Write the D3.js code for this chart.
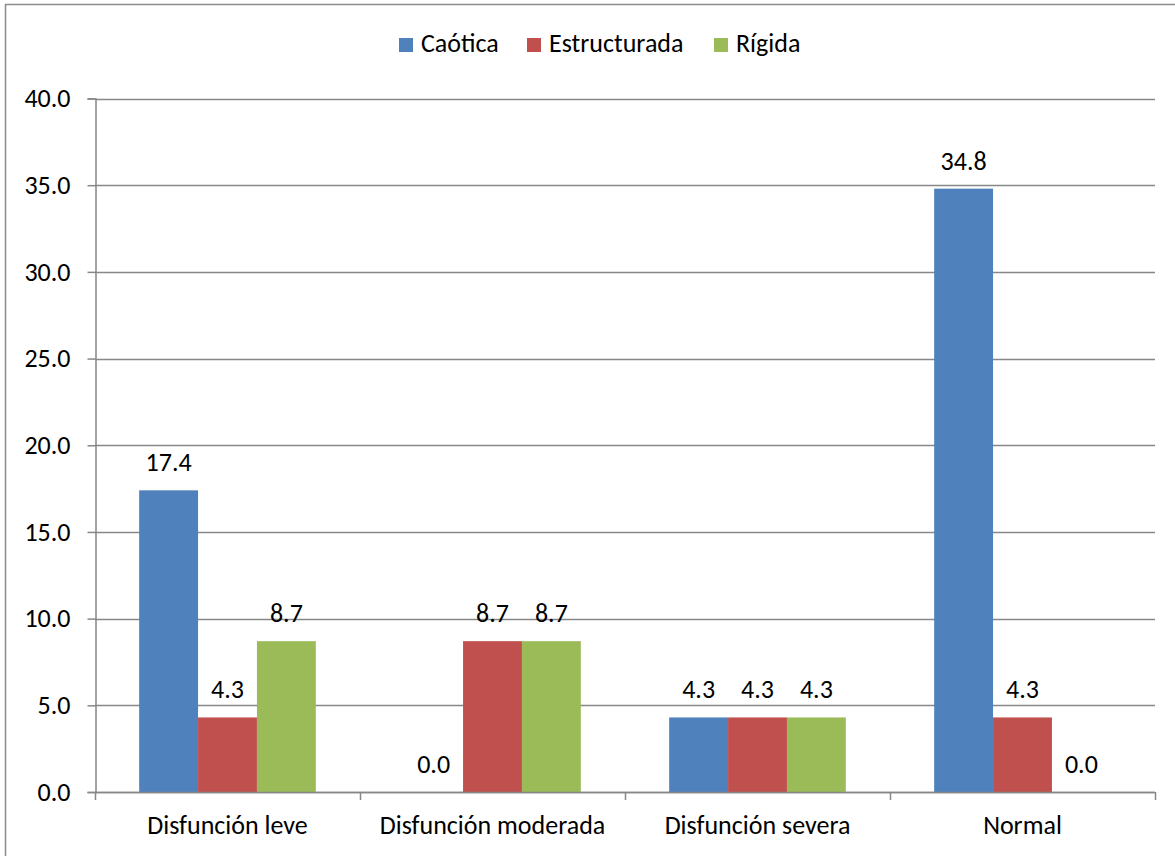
<!DOCTYPE html>
<html>
<head>
<meta charset="utf-8">
<script src="https://cdn.jsdelivr.net/npm/d3@7"></script>
<style>
  html, body { margin: 0; padding: 0; background: #fff; }
  svg text { font-family: Carlito, "Open Sans", sans-serif; fill: #000; }
</style>
</head>
<body>
<svg id="chart" width="1175" height="856"></svg>
<script>
// Chart data
const categories = ["Disfunción leve", "Disfunción moderada", "Disfunción severa", "Normal"];
const seriesNames = ["Caótica", "Estructurada", "Rígida"];
const caotica = [17.4, 0.0, 4.3, 34.8];
const estructurada = [4.3, 8.7, 4.3, 4.3];
const rigida = [8.7, 8.7, 4.3, 0.0];
const seriesColors = ["#4F81BD", "#C0504D", "#9BBB59"];
const yTicks = [0, 5, 10, 15, 20, 25, 30, 35, 40];

const seriesValues = [caotica, estructurada, rigida];

const svg = d3.select("#chart");
const W = 1175, H = 856;
const plot = { left: 95, right: 1155, top: 98.5, bottom: 792 };
const fontSize = 26;
const fontFamily = "Carlito, 'Open Sans', sans-serif";

// Outer chart frame (right and bottom edges sit past the canvas)
svg.append("rect")
  .attr("x", 5.5).attr("y", 4.5)
  .attr("width", W + 10).attr("height", H + 10)
  .attr("fill", "#fff")
  .attr("stroke", "#8c8c8c").attr("stroke-width", 1.5);

const x = d3.scaleBand().domain(categories).range([plot.left, plot.right]).paddingInner(0).paddingOuter(0);
const xs = d3.scaleBand().domain(seriesNames).range([0, x.bandwidth()]).paddingInner(0).paddingOuter(0.75);
const y = d3.scaleLinear().domain([0, 40]).range([plot.bottom, plot.top]);

// Horizontal gridlines
svg.append("g").selectAll("line").data(yTicks).join("line")
  .attr("x1", plot.left).attr("x2", plot.right)
  .attr("y1", d => Math.round(y(d)) + 0.5).attr("y2", d => Math.round(y(d)) + 0.5)
  .attr("stroke", "#878787").attr("stroke-width", 1.5);

// Y axis
const yAxis = d3.axisLeft(y).tickValues(yTicks).tickFormat(d3.format(".1f")).tickSize(8).tickPadding(17);
const gy = svg.append("g").attr("transform", `translate(${plot.left + 0.5},0)`).call(yAxis);
gy.select(".domain").attr("stroke", "#878787").attr("stroke-width", 1.5);
gy.selectAll(".tick line").attr("stroke", "#878787").attr("stroke-width", 1.5);
gy.selectAll(".tick text").attr("font-size", fontSize).attr("font-family", fontFamily).attr("fill", "#000");

// Bars
const groups = svg.append("g").selectAll("g").data(seriesNames).join("g")
  .attr("fill", (d, i) => seriesColors[i]);

groups.each(function(name, si) {
  d3.select(this).selectAll("rect").data(categories).join("rect")
    .attr("x", (c) => x(c) + xs(name))
    .attr("width", xs.bandwidth())
    .attr("y", (c, ci) => y(seriesValues[si][ci]))
    .attr("height", (c, ci) => y(0) - y(seriesValues[si][ci]));
});

// X axis with boundary ticks between categories
const gx = svg.append("g");
gx.append("line")
  .attr("x1", plot.left).attr("x2", plot.right)
  .attr("y1", plot.bottom + 0.5).attr("y2", plot.bottom + 0.5)
  .attr("stroke", "#878787").attr("stroke-width", 1.5);
const boundaries = categories.map(c => x(c)).concat([x(categories[categories.length - 1]) + x.bandwidth()]);
gx.selectAll("line.tk").data(boundaries).join("line").attr("class", "tk")
  .attr("x1", d => Math.round(d) + 0.5).attr("x2", d => Math.round(d) + 0.5)
  .attr("y1", plot.bottom).attr("y2", plot.bottom + 8)
  .attr("stroke", "#878787").attr("stroke-width", 1.5);
gx.selectAll("text").data(categories).join("text")
  .attr("x", c => x(c) + x.bandwidth() / 2)
  .attr("y", 834)
  .attr("text-anchor", "middle")
  .attr("font-size", fontSize)
  .text(c => c);

// Value labels above each bar
const fmt = d3.format(".1f");
seriesNames.forEach((name, si) => {
  svg.append("g").selectAll("text").data(categories).join("text")
    .attr("x", c => x(c) + xs(name) + xs.bandwidth() / 2)
    .attr("y", (c, ci) => y(seriesValues[si][ci]) - 19)
    .attr("text-anchor", "middle")
    .attr("font-size", fontSize)
    .text((c, ci) => fmt(seriesValues[si][ci]));
});

// Legend
const legendX = [399, 527, 714];
const legend = svg.append("g").selectAll("g").data(seriesNames).join("g")
  .attr("transform", (d, i) => `translate(${legendX[i]},38)`);
legend.append("rect").attr("width", 14).attr("height", 14)
  .attr("fill", (d, i) => seriesColors[i]);
legend.append("text").attr("x", 22).attr("y", 14)
  .attr("font-size", fontSize)
  .text(d => d);
</script>
</body>
</html>
